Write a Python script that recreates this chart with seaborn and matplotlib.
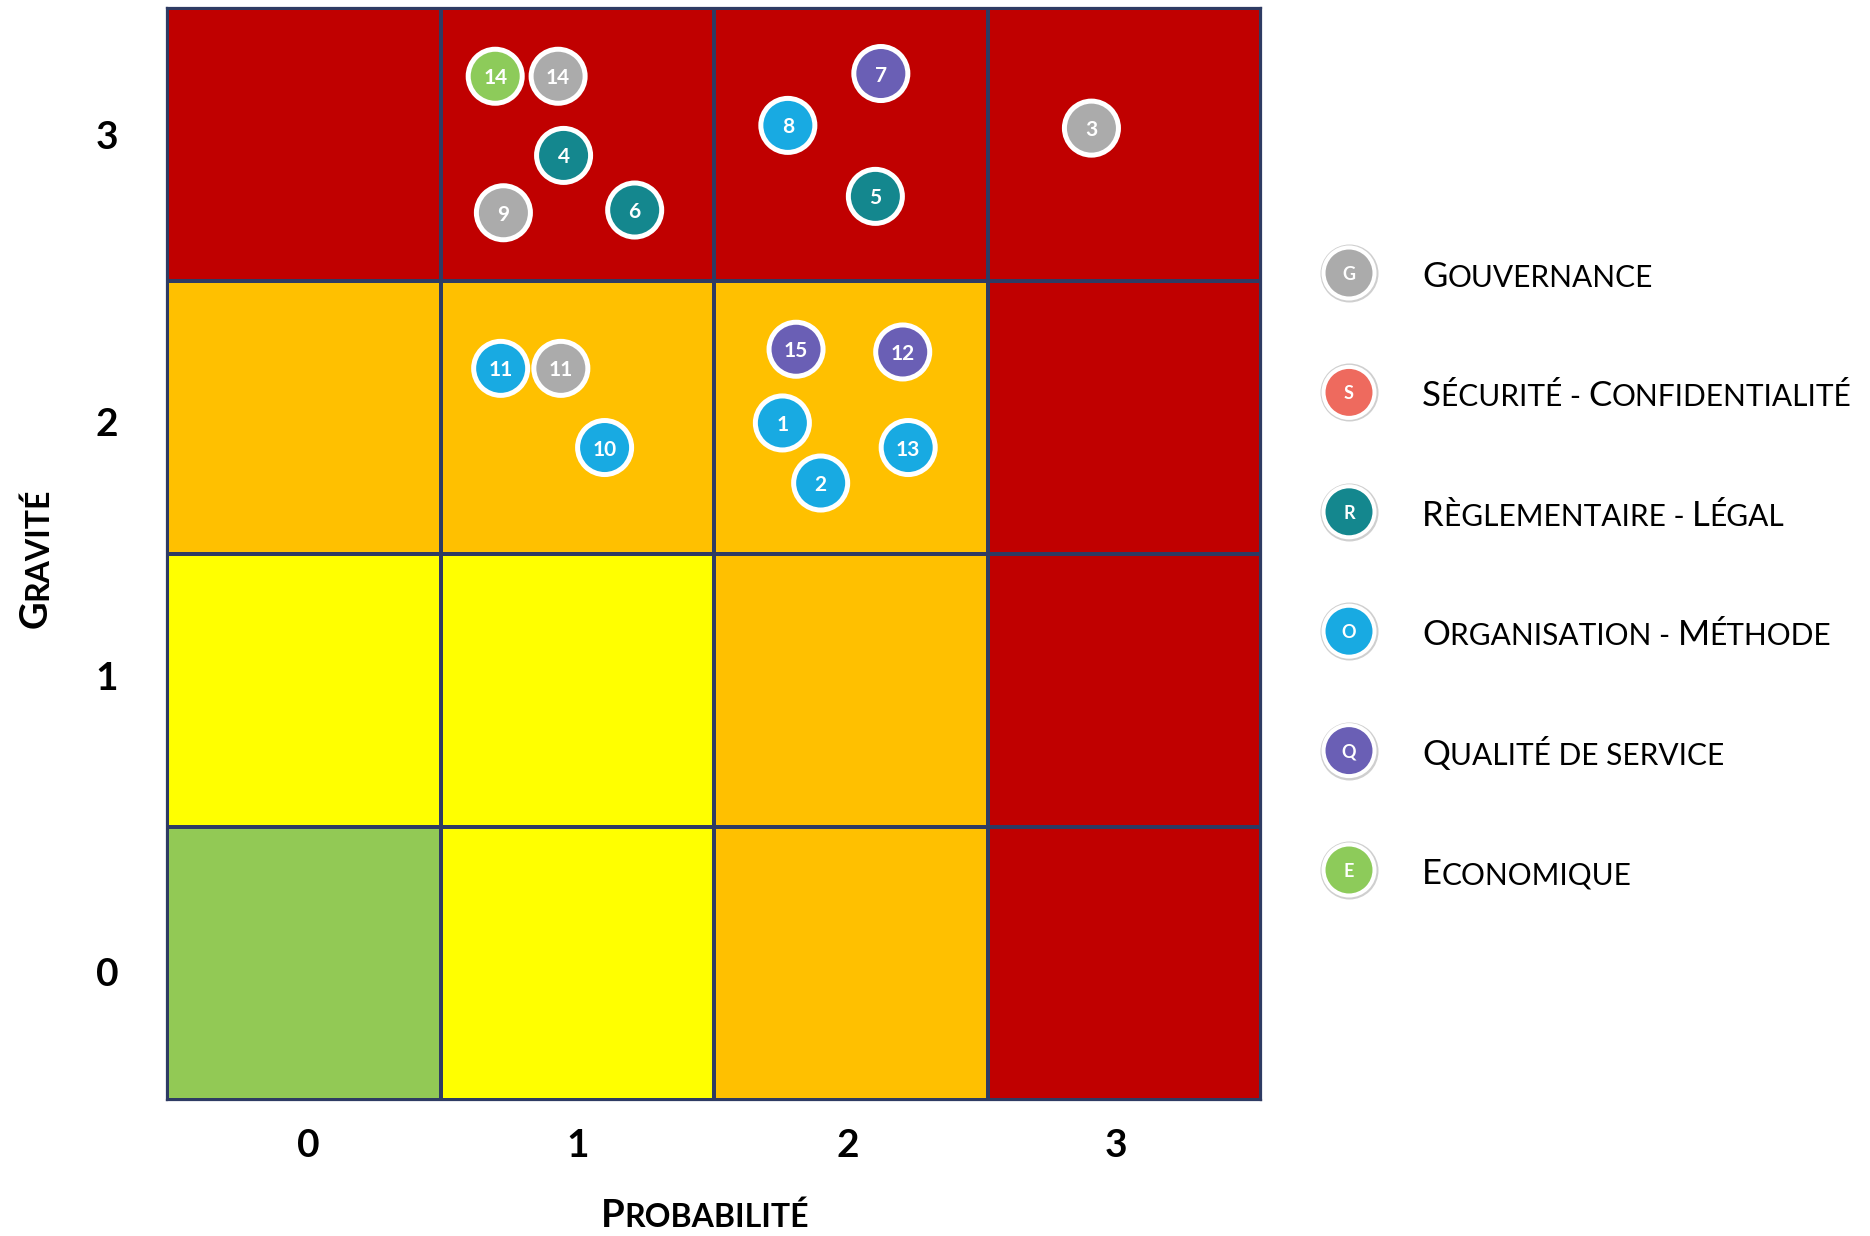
import numpy as np
import pandas as pd
import matplotlib
matplotlib.use("Agg")
import matplotlib.pyplot as plt
import matplotlib.transforms as mtransforms
from matplotlib.colors import ListedColormap
from matplotlib.font_manager import FontProperties
import seaborn as sns

# ---------------------------------------------------------------- data
probabilite = [0, 1, 2, 3]
gravite = [0, 1, 2, 3]
# risk level of each cell: rows = gravité 0..3, columns = probabilité 0..3
# 0 = faible, 1 = modéré, 2 = élevé, 3 = critique
niveaux = [
    [0, 1, 2, 3],
    [1, 1, 2, 3],
    [2, 2, 2, 3],
    [3, 3, 3, 3],
]
niveau_couleurs = ["#92C955", "#FFFF00", "#FFC000", "#C00000"]

# identified risks: number, category, probability score, gravity score
risque_id = [14, 14, 4, 9, 6, 7, 8, 5, 3, 11, 11, 10, 15, 12, 1, 13, 2]
risque_cat = ["E", "G", "R", "G", "R", "Q", "O", "R", "G", "O", "G", "O", "Q", "Q", "O", "O", "O"]
risque_prob = [0.70, 0.93, 0.95, 0.73, 1.21, 2.11, 1.77, 2.09, 2.88,
               0.72, 0.94, 1.10, 1.80, 2.19, 1.75, 2.21, 1.89]
risque_grav = [3.25, 3.25, 2.96, 2.75, 2.76, 3.26, 3.07, 2.81, 3.06,
               2.18, 2.18, 1.89, 2.25, 2.24, 1.98, 1.89, 1.76]

categorie_code = ["G", "S", "R", "O", "Q", "E"]
categorie_nom = ["Gouvernance", "Sécurité - Confidentialité", "Règlementaire - Légal",
                 "Organisation - Méthode", "Qualité de service", "Economique"]
categorie_couleur = ["#ABABAB", "#EE6A5E", "#14878E", "#18AAE2", "#6A5FB5", "#8DCB5A"]

# ---------------------------------------------------------------- style
sns.set_theme(style="white")
plt.rcParams["font.family"] = ["Lato", "DejaVu Sans"]

W, H, DPI = 1870, 1236, 100
fig = plt.figure(figsize=(W / DPI, H / DPI), dpi=DPI)
renderer = fig.canvas.get_renderer()


def px(x, y):
    """Figure fraction from pixel position (origin top-left)."""
    return x / W, 1 - y / H


def small_caps(x, y, text, big, small, weight="normal", rotation=0,
               color="black", align="left"):
    """Draw text in small capitals starting at display point (x, y) on the baseline."""
    runs = []
    for ch in text:
        size = big if ch.isupper() else small
        if runs and runs[-1][1] == size:
            runs[-1][0] += ch.upper()
        else:
            runs.append([ch.upper(), size])

    def advance(s, size):
        fp = FontProperties(family=plt.rcParams["font.family"], size=size, weight=weight)
        w1 = renderer.get_text_width_height_descent("|" + s + "|", fp, ismath=False)[0]
        w0 = renderer.get_text_width_height_descent("||", fp, ismath=False)[0]
        return w1 - w0

    widths = [advance(s, sz) for s, sz in runs]
    pos = -sum(widths) / 2 if align == "center" else 0.0
    th = np.deg2rad(rotation)
    ux, uy = np.cos(th), np.sin(th)
    for (s, sz), w in zip(runs, widths):
        fig.text(x + pos * ux, y + pos * uy, s, fontsize=sz, weight=weight,
                 rotation=rotation, rotation_mode="anchor", ha="left",
                 va="baseline", color=color, transform=mtransforms.IdentityTransform())
        pos += w


# ---------------------------------------------------------------- matrix
left, top = px(167, 8)
right, bottom = px(1261, 1100)
ax = fig.add_axes([left, bottom, right - left, top - bottom])

df_niv = pd.DataFrame(niveaux, index=gravite, columns=probabilite)
grid_color = "#2E3B63"
sns.heatmap(df_niv, cmap=ListedColormap(niveau_couleurs), vmin=0, vmax=3,
            cbar=False, linewidths=1.6, linecolor=grid_color, ax=ax)
ax.set_ylim(0, len(gravite))          # gravité grows upward
ax.set_xlim(0, len(probabilite))
for sp in ax.spines.values():
    sp.set_visible(True)
    sp.set_color(grid_color)
    sp.set_linewidth(1.6)

# tick labels sit roughly at the middle of each row / column
ax.set_xticks([0.516, 1.503, 2.49, 3.47], [str(p) for p in probabilite])
ax.set_yticks([0.46, 1.544, 2.475, 3.526], [str(g) for g in gravite])
ax.set_xlabel("")
ax.set_ylabel("")
ax.tick_params(axis="both", length=0, labelsize=28)
ax.tick_params(axis="y", pad=35, labelrotation=0)
ax.tick_params(axis="x", pad=20)
for lbl in ax.get_xticklabels() + ax.get_yticklabels():
    lbl.set_fontweight("bold")
    lbl.set_color("black")

# risks: heatmap cells are centred on half-integers, so shift scores by half a cell
df_r = pd.DataFrame({"id": risque_id, "cat": risque_cat,
                     "prob": risque_prob, "grav": risque_grav})
df_r["x"] = df_r["prob"] + 0.5
df_r["y"] = df_r["grav"] + 0.5
palette = dict(zip(categorie_code, categorie_couleur))
sns.scatterplot(data=df_r, x="x", y="y", hue="cat", palette=palette, s=1513,
                edgecolor="white", linewidth=3.6, legend=False, ax=ax, zorder=3)
for _, r in df_r.iterrows():
    ax.text(r["x"], r["y"], str(r["id"]), ha="center", va="center_baseline",
            color="white", fontsize=15, fontweight="bold", zorder=4)
ax.set_xlabel("")
ax.set_ylabel("")

# axis titles in small capitals
small_caps(705, H - 1227, "Probabilité", 27.5, 23, weight="bold", align="center")
small_caps(47, H - 628, "Gravité", 27.5, 23, weight="bold", rotation=90)

# ---------------------------------------------------------------- legend
row_step = 119.4
l_left, l_top = px(1300, 273 - row_step / 2)
l_right, l_bottom = px(1870, 273 + row_step * 5.5)
axl = fig.add_axes([l_left, l_bottom, l_right - l_left, l_top - l_bottom])
axl.set_xlim(0, 570)
axl.set_ylim(len(categorie_code) - 0.5, -0.5)
axl.axis("off")

df_l = pd.DataFrame({"cat": categorie_code, "rang": range(len(categorie_code))})
df_l["x"] = 49
sns.scatterplot(data=df_l, x="x", y="rang", color="#CFCFCF", s=1744,
                linewidth=0, legend=False, ax=axl, zorder=2)
sns.scatterplot(data=df_l, x="x", y="rang", hue="cat", palette=palette, s=1348,
                edgecolor="white", linewidth=2.9, legend=False, ax=axl, zorder=3)
for _, r in df_l.iterrows():
    axl.text(r["x"], r["rang"], r["cat"], ha="center", va="center_baseline",
             color="white", fontsize=13, fontweight="bold", zorder=4)

for i, nom in enumerate(categorie_nom):
    xd, yd = axl.transData.transform((122, i))
    small_caps(xd, yd - 14, nom, 25, 21.5)

fig.savefig("out.png", dpi=DPI, facecolor="white")
